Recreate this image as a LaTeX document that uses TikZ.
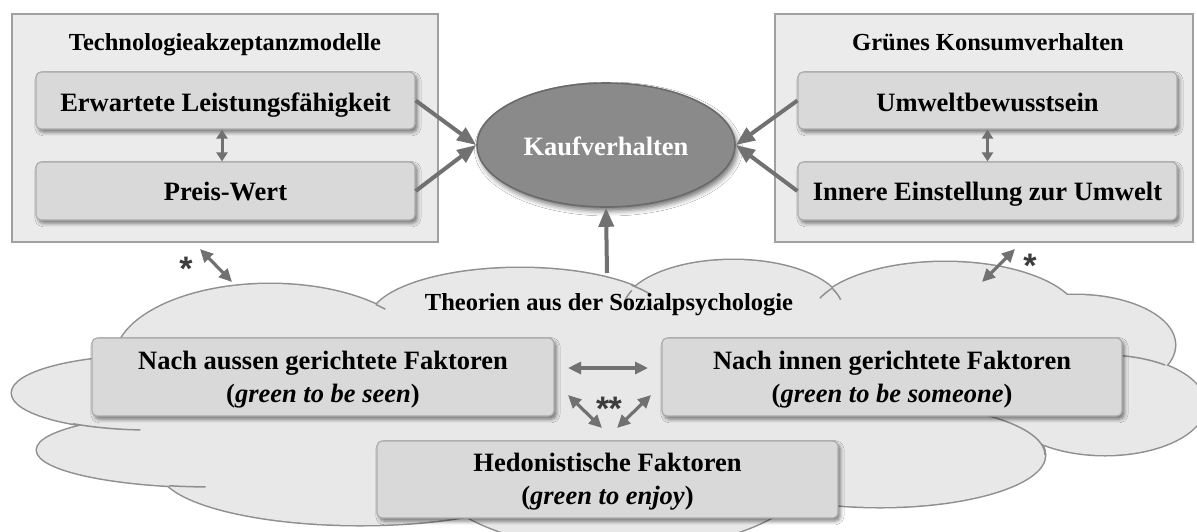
\documentclass[tikz,border=0pt]{standalone}
\usepackage{fontspec}
\setmainfont{Liberation Serif}
\newfontfamily\starfamily{Liberation Sans}
\usetikzlibrary{arrows.meta,shapes.geometric,shadows.blur}

\definecolor{obfill}{HTML}{EBEBEB}
\definecolor{obline}{HTML}{A0A0A0}
\definecolor{ibfill}{HTML}{D9D9D9}
\definecolor{ibline}{HTML}{ABABAB}
\definecolor{cloudfill}{HTML}{E8E8E8}
\definecolor{cloudline}{HTML}{8F8F8F}
\definecolor{kfill}{HTML}{8A8A8A}
\definecolor{kline}{HTML}{6A6A6A}
\definecolor{arrowgray}{HTML}{717171}
\definecolor{stargray}{HTML}{3C3C3C}

\newcommand\ttlfont{\fontsize{12.25}{14}\selectfont\bfseries}
\newcommand\bxfont{\fontsize{13.25}{16.5}\selectfont\bfseries}
% partial outline of one cloud lobe: cx, cy, rx, ry, start, end
\newcommand\lobecrease[6]{\draw[creaseline] (#1,#2) ++(#5:#3 and #4) arc[start angle=#5, end angle=#6, x radius=#3, y radius=#4];}

\begin{document}
\begin{tikzpicture}[x=0.5pt,y=-0.5pt,
  outerbox/.style={draw=obline, fill=obfill, line width=1pt, inner sep=0pt},
  innerbox/.style={draw=ibline, fill=ibfill, line width=0.6pt, rounded corners=2.5pt, inner sep=0pt,
    blur shadow={shadow xshift=1.2pt, shadow yshift=-1.6pt, shadow blur radius=1.8pt, shadow opacity=50}},
  ttl/.style={font=\ttlfont, anchor=base, inner sep=0pt},
  bxtext/.style={font=\bxfont, align=center, inner sep=0pt},
  bxline/.style={font=\bxfont, anchor=base, inner sep=0pt},
  star/.style={font=\starfamily\bfseries\fontsize{17}{17}\selectfont, text=stargray, anchor=base, inner sep=0pt},
  bigarrow/.style={draw=arrowgray, line width=2pt, -{Triangle[width=7.5pt,length=9.5pt]}},
  dblarrow/.style={draw=arrowgray, line width=1.6pt, {Triangle[width=6pt,length=6.5pt]}-{Triangle[width=6pt,length=6.5pt]}},
  smalldbl/.style={draw=arrowgray, line width=1.5pt, {Triangle[width=5.5pt,length=4.5pt]}-{Triangle[width=5.5pt,length=4.5pt]}},
  cloudedge/.style={draw=cloudline, line width=1.5pt},
  creaseline/.style={draw=cloudline, line width=0.75pt},
]
\useasboundingbox (0,0) rectangle (1197,531);
\clip (0,0) rectangle (1197,531);
\fill[white] (0,0) rectangle (1197,531);

% ---------- cloud: lobes stroked first, then filled so only the outline remains
\def\lobes{270/360/155/76, 520/320/150/52, 733/310/110/50, 945/320/135/58,
  1075/345/100/50, 1105/405/100/50, 880/455/165/52, 620/460/197/90,
  360/470/200/55, 215/450/178/37, 150/393/138/37}
\foreach \cx/\cy/\rx/\ry in \lobes {\draw[cloudedge] (\cx,\cy) ellipse [x radius=\rx, y radius=\ry];}
\foreach \cx/\cy/\rx/\ry in \lobes {\fill[cloudfill] (\cx,\cy) ellipse [x radius=\rx, y radius=\ry];}
\fill[cloudfill] (600,400) ellipse [x radius=440, y radius=105];
% inner creases of the cloud
\lobecrease{150}{393}{138}{37}{124}{94}
\lobecrease{215}{450}{178}{37}{105}{93}
\lobecrease{520}{320}{150}{52}{318}{330}
\lobecrease{733}{310}{110}{50}{203}{190}
\lobecrease{733}{310}{110}{50}{335}{348}
\lobecrease{945}{320}{135}{58}{214}{202}
\lobecrease{270}{360}{155}{76}{313}{318}
\lobecrease{880}{455}{165}{52}{309}{360}
\lobecrease{1105}{405}{100}{50}{280}{307}

\node[ttl] (soz) at (609,310) {Theorien aus der Sozialpsychologie};

% ---------- factor boxes inside the cloud
\node[innerbox, minimum width=231pt, minimum height=39pt] (aussen) at (323,377) {};
\node[bxtext] (aussent) at (323,380) {Nach aussen gerichtete Faktoren\\(\textit{green to be seen})};
\node[innerbox, minimum width=230pt, minimum height=39pt] (innen) at (892,377) {};
\node[bxtext] (innent) at (892,380) {Nach innen gerichtete Faktoren\\(\textit{green to be someone})};
\node[innerbox, minimum width=230.5pt, minimum height=38.5pt] (hedon) at (607.5,479.5) {};
\node[bxtext] (hedont) at (607.5,482) {Hedonistische Faktoren\\(\textit{green to enjoy})};

% ---------- outer frames
\node[outerbox, minimum width=213pt, minimum height=114pt] (tam) at (225,128) {};
\node[ttl] (tamt) at (225,50) {Technologieakzeptanzmodelle};
\node[outerbox, minimum width=209pt, minimum height=114pt] (gruen) at (984,128) {};
\node[ttl] (gruent) at (988,50) {Grünes Konsumverhalten};

\node[innerbox, minimum width=189.5pt, minimum height=28.5pt] (leist) at (225.5,100.5) {};
\node[bxline] (leistt) at (225.5,111) {Erwartete Leistungsfähigkeit};
\node[innerbox, minimum width=189.5pt, minimum height=29pt] (preis) at (225.5,191) {};
\node[bxline] (preist) at (225.5,200) {Preis-Wert};
\node[innerbox, minimum width=189.5pt, minimum height=28.5pt] (umwelt) at (987.5,100.5) {};
\node[bxline] (umweltt) at (987.5,111) {Umweltbewusstsein};
\node[innerbox, minimum width=189.5pt, minimum height=29pt] (einst) at (987.5,191) {};
\node[bxline] (einstt) at (987.5,200) {Innere Einstellung zur Umwelt};

% ---------- central construct
\node[ellipse, draw=kline, fill=kfill, line width=0.8pt, minimum width=129pt, minimum height=62pt,
  blur shadow={shadow xshift=1.2pt, shadow yshift=-2pt, shadow blur radius=2.5pt, shadow opacity=55}] (kauf) at (606,145) {};
\node[bxline, text=white] (kauft) at (606,155) {Kaufverhalten};

% ---------- connectors
\draw[bigarrow] (leist.east) -- (kauf.west);
\draw[bigarrow] (preis.east) -- (kauf.west);
\draw[bigarrow] (umwelt.west) -- (kauf.east);
\draw[bigarrow] (einst.west) -- (kauf.east);
\coordinate (cloudtop) at (607,273);
\draw[bigarrow] (cloudtop) -- (kauf.south);

\draw[smalldbl] ([xshift=-1.75pt]leist.south) -- ([xshift=-1.75pt]preis.north);
\draw[smalldbl] (umwelt.south) -- (einst.north);

\coordinate (sa1) at (200,249); \coordinate (sa2) at (232,282);
\coordinate (sb1) at (1015,249); \coordinate (sb2) at (982,282);
\draw[dblarrow] (sa1) -- (sa2);
\draw[dblarrow] (sb1) -- (sb2);
\node[star] (stara) at (186,280) {*};
\node[star] (starb) at (1030,277) {*};

\coordinate (h1) at (568,368); \coordinate (h2) at (648,368);
\coordinate (dl1) at (568,395); \coordinate (dl2) at (602,428);
\coordinate (dr1) at (651,395); \coordinate (dr2) at (617,428);
\draw[dblarrow] (h1) -- (h2);
\draw[dblarrow] (dl1) -- (dl2);
\draw[dblarrow] (dr1) -- (dr2);
\node[star] (starc) at (609,420) {*\kern-0.4pt*};
\end{tikzpicture}
\end{document}
